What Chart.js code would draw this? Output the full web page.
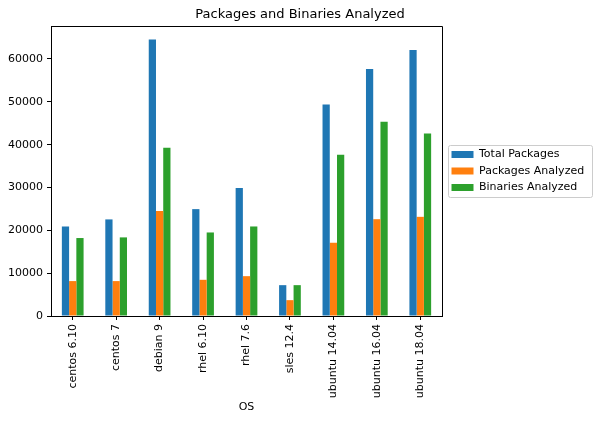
<!DOCTYPE html>
<html>
<head>
<meta charset="utf-8">
<script src="https://cdn.jsdelivr.net/npm/chart.js@4"></script>
<style>
  body { margin: 0; background: #fff; }
  canvas { display: block; }
</style>
</head>
<body>
<canvas id="os-chart" width="600" height="421"></canvas>
<script>
const osLabels = ['centos 6.10', 'centos 7', 'debian 9', 'rhel 6.10', 'rhel 7.6', 'sles 12.4', 'ubuntu 14.04', 'ubuntu 16.04', 'ubuntu 18.04'];
const totalPackages = [20900, 22550, 64550, 24950, 29900, 7200, 49350, 57650, 62100];
const packagesAnalyzed = [8150, 8150, 24500, 8450, 9300, 3700, 17100, 22600, 23150];
const binariesAnalyzed = [18200, 18350, 39300, 19500, 20900, 7200, 37650, 45350, 42600];
const yTicks = [0, 10000, 20000, 30000, 40000, 50000, 60000];

const ctx = document.getElementById('os-chart').getContext('2d');
Chart.defaults.font.family = "'DejaVu Sans', sans-serif";
Chart.defaults.color = '#000';

const FONT_SIZE = 11;
const LEGEND_PAD = 5.5;

// matplotlib-ish layout: fixed legend width, frame round legend, box round axes
const mplLayout = {
  id: 'mplLayout',
  beforeLayout(chart) {
    const legend = chart.legend;
    if (legend && !legend._widthFixed) {
      const origFit = legend.fit.bind(legend);
      legend.fit = function () {
        origFit();
        this.width = 158;
      };
      legend._widthFixed = true;
    }
  },
  afterLayout(chart) {
    chart.legend.left += 4;
    chart.legend.right += 4;
  },
  afterDraw(chart) {
    const c = chart.ctx;
    const area = chart.chartArea;
    c.save();
    c.strokeStyle = '#000';
    c.lineWidth = 1;
    c.beginPath();
    c.moveTo(Math.round(area.left) + 0.5, Math.round(area.top) + 0.5);
    c.lineTo(Math.round(area.right) + 0.5, Math.round(area.top) + 0.5);
    c.lineTo(Math.round(area.right) + 0.5, Math.round(area.bottom) + 0.5);
    c.stroke();

    const lg = chart.legend;
    const colH = 3 * (FONT_SIZE + LEGEND_PAD);
    const y0 = (lg.top + LEGEND_PAD + lg.bottom - colH) / 2;
    const boxX = lg.left + LEGEND_PAD;
    c.strokeStyle = '#cccccc';
    c.beginPath();
    c.roundRect(Math.round(boxX - 3.7) + 0.5, Math.round(y0 - 4.4) + 0.5, 144, 52, 2);
    c.stroke();
    c.restore();
  },
};

new Chart(ctx, {
  type: 'bar',
  data: {
    labels: osLabels,
    datasets: [
      { label: 'Total Packages', data: totalPackages, backgroundColor: '#1f77b4' },
      { label: 'Packages Analyzed', data: packagesAnalyzed, backgroundColor: '#ff7f0e' },
      { label: 'Binaries Analyzed', data: binariesAnalyzed, backgroundColor: '#2ca02c' },
    ],
  },
  options: {
    responsive: false,
    animation: false,
    datasets: {
      bar: { categoryPercentage: 0.5, barPercentage: 1.0, borderWidth: 0 },
    },
    layout: { padding: 0 },
    scales: {
      x: {
        grid: { drawOnChartArea: false, offset: false, tickLength: 4, color: '#000' },
        border: { color: '#000', width: 1 },
        ticks: {
          autoSkip: false,
          minRotation: 90,
          maxRotation: 90,
          padding: 4,
          font: { size: FONT_SIZE },
        },
        title: {
          display: true,
          text: 'OS',
          font: { size: FONT_SIZE },
          padding: { top: 0, bottom: 7 },
        },
        afterFit(scale) {
          scale.height = 105;
        },
      },
      y: {
        min: 0,
        max: 67700,
        grid: { drawOnChartArea: false, tickLength: 4, color: '#000' },
        border: { color: '#000', width: 1 },
        ticks: {
          includeBounds: false,
          stepSize: 10000,
          padding: 4,
          font: { size: FONT_SIZE },
          callback: (value) => String(value),
        },
        afterBuildTicks(scale) {
          scale.ticks = yTicks.map((v) => ({ value: v }));
        },
        afterFit(scale) {
          scale.width = 51;
        },
      },
    },
    plugins: {
      title: {
        display: true,
        text: 'Packages and Binaries Analyzed',
        font: { size: 13, weight: 'normal' },
        padding: { top: 6.5, bottom: 3.9 },
      },
      legend: {
        position: 'right',
        align: 'center',
        fullSize: false,
        labels: {
          boxWidth: 22,
          boxHeight: 7,
          padding: LEGEND_PAD,
          font: { size: FONT_SIZE },
        },
      },
      tooltip: { enabled: false },
    },
  },
  plugins: [mplLayout],
});
</script>
</body>
</html>
